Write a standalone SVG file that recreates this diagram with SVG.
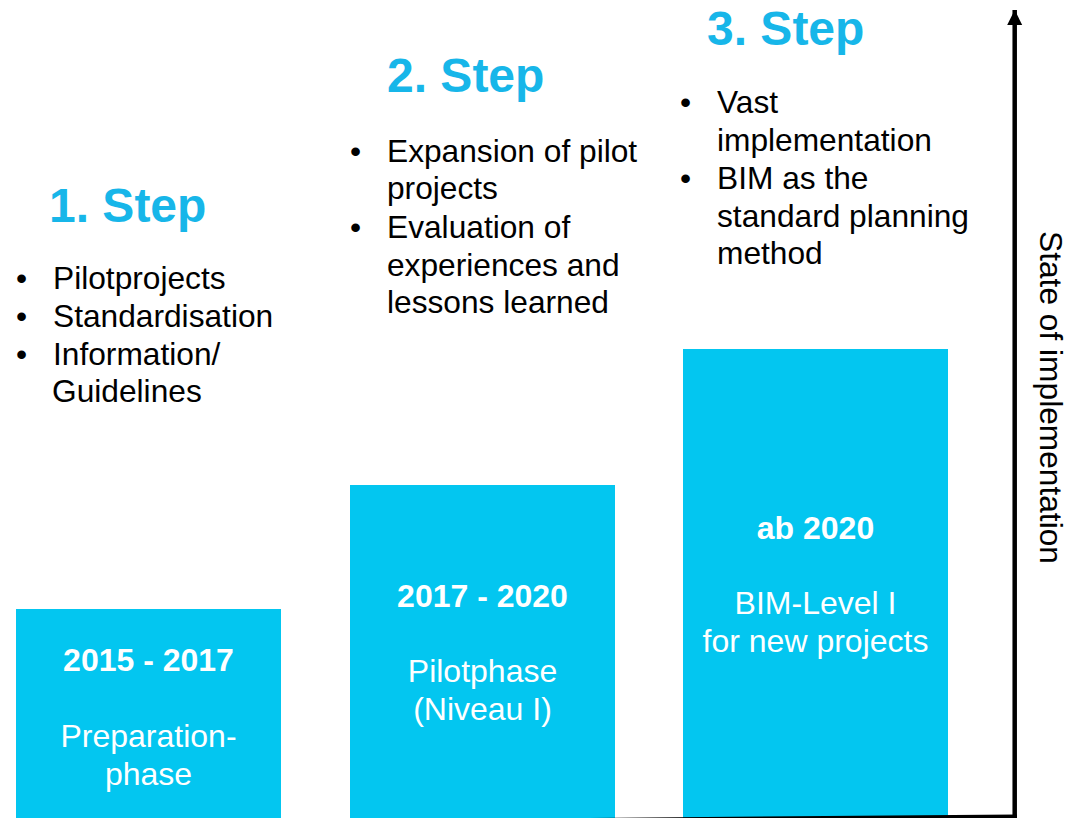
<svg xmlns="http://www.w3.org/2000/svg" width="1077" height="818" viewBox="0 0 1077 818">
<defs>
<style>
.box{fill:#03C6F0;}
.head{font-family:"Liberation Sans",Arial,sans-serif;font-weight:bold;font-size:48px;fill:#17B6E9;}
.body{font-family:"Liberation Sans",Arial,sans-serif;font-size:31.7px;fill:#000;}
.yr{font-family:"Liberation Sans",Arial,sans-serif;font-weight:bold;font-size:32px;fill:#fff;text-anchor:middle;}
.wt{font-family:"Liberation Sans",Arial,sans-serif;font-size:32px;fill:#fff;text-anchor:middle;}
</style>
<marker id="ah" viewBox="0 0 10 10" refX="10" refY="5" markerWidth="3.4" markerHeight="3.6" orient="auto" markerUnits="strokeWidth">
<path d="M0,0 L10,5 L0,10 Z" fill="#000"/>
</marker>
</defs>
<rect width="1077" height="818" fill="#fff"/>

<g id="step1">
<text class="head" x="49" y="222">1. Step</text>
<text class="body" x="16" y="289">•</text>
<text class="body" x="53" y="289">Pilotprojects</text>
<text class="body" x="16" y="327">•</text>
<text class="body" x="53" y="327">Standardisation</text>
<text class="body" x="16" y="365">•</text>
<text class="body" x="53" y="365">Information/</text>
<text class="body" x="52" y="402">Guidelines</text>
</g>

<g id="step2">
<text class="head" x="387" y="92">2. Step</text>
<text class="body" x="350" y="162">•</text>
<text class="body" x="387" y="162">Expansion of pilot</text>
<text class="body" x="387" y="199">projects</text>
<text class="body" x="350" y="238">•</text>
<text class="body" x="387" y="238">Evaluation of</text>
<text class="body" x="387" y="276">experiences and</text>
<text class="body" x="387" y="313">lessons learned</text>
</g>

<g id="step3">
<text class="head" x="707" y="45">3. Step</text>
<text class="body" x="680" y="113">•</text>
<text class="body" x="717" y="113">Vast</text>
<text class="body" x="717" y="151">implementation</text>
<text class="body" x="680" y="189">•</text>
<text class="body" x="717" y="189">BIM as the</text>
<text class="body" x="717" y="227">standard planning</text>
<text class="body" x="717" y="264">method</text>
</g>

<g id="box1">
<rect class="box" x="16" y="609" width="265" height="209"/>
<text class="yr" x="148.5" y="671">2015 - 2017</text>
<text class="wt" x="148.5" y="747">Preparation-</text>
<text class="wt" x="148.5" y="785">phase</text>
</g>

<g id="box2">
<rect class="box" x="350" y="485" width="265" height="333"/>
<text class="yr" x="482.5" y="607">2017 - 2020</text>
<text class="wt" x="482.5" y="682">Pilotphase</text>
<text class="wt" x="482.5" y="720">(Niveau I)</text>
</g>

<g id="box3">
<rect class="box" x="683" y="349" width="265" height="469"/>
<text class="yr" x="815.5" y="539">ab 2020</text>
<text class="wt" x="815.5" y="614">BIM-Level I</text>
<text class="wt" x="815.5" y="652">for new projects</text>
</g>

<g id="axis-label">
<text class="body" transform="translate(1040,397.5) rotate(90)" text-anchor="middle">State of implementation</text>
</g>

<g id="connectors">
<line x1="590" y1="820" x2="1017" y2="816.5" stroke="#000" stroke-width="4"/>
<line x1="1014.7" y1="818" x2="1014.7" y2="10" stroke="#000" stroke-width="4.5" marker-end="url(#ah)"/>
</g>
</svg>
